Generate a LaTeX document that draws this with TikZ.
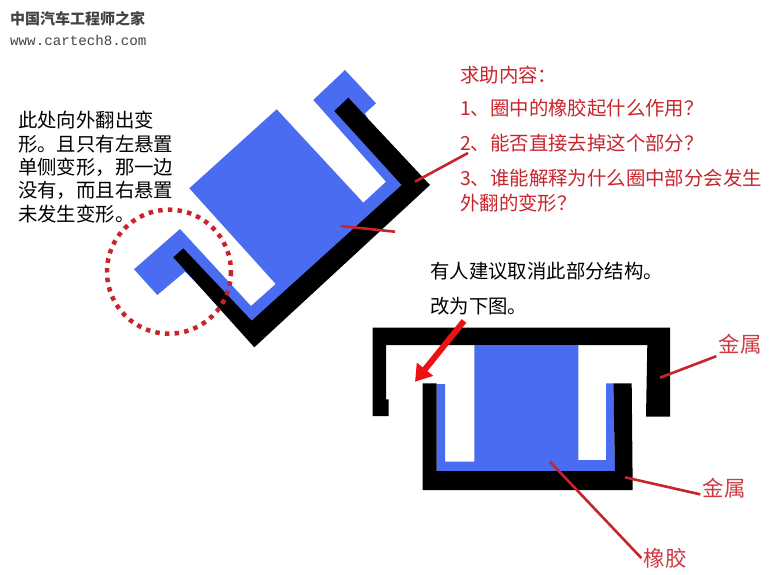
\documentclass[tikz,border=0pt]{standalone}
\usepackage{fontspec}
\setmainfont{Noto Sans CJK SC}
\newfontfamily\urlfont{Liberation Mono}
\usepackage{tikz}
\usetikzlibrary{calc}
\usetikzlibrary{arrows.meta}
\definecolor[named]{RubberBlue}{HTML}{4A6CF0}
\definecolor[named]{NoteRed}{HTML}{C8242C}
\definecolor[named]{LabelRed}{HTML}{CC3A42}
\definecolor[named]{ArrowRed}{HTML}{EE1111}
\definecolor[named]{MarkGray}{HTML}{444444}
\tikzset{
  rubber/.style={fill=RubberBlue},
  metal/.style={fill=black},
  leader/.style={draw=NoteRed,line width=2.6pt},
  note/.style={anchor=west,inner sep=0pt,font=\fontsize{19.4}{23.4}\selectfont},
  ask/.style={note,text=NoteRed},
  partlabel/.style={inner sep=2pt,text=LabelRed,font=\fontsize{21.5}{24}\selectfont}
}

\begin{document}
\begin{tikzpicture}[x=1pt,y=-1pt]
      \useasboundingbox (0,0) rectangle (779,574);
      \node[anchor=west,inner sep=0pt,text=MarkGray,font=\fontsize{15}{16}\selectfont\bfseries] (mark) at (10,19) {中国汽车工程师之家};
      \node[anchor=west,inner sep=0pt,text=MarkGray,font=\fontsize{14.2}{16}\selectfont\urlfont] (site) at (10,40) {www.cartech8.com};
      % tilted part
      \fill[rubber] (276.7,109.3) -- (363.3,202.7) -- (386,181.7) -- (313.3,100) -- (345,70) -- (376,103.3)
        -- (365,113.3) -- (401.7,185) -- (285,293.3) -- (251.7,320.7) -- (200,286.7) -- (185,271.7)
        -- (157.3,295) -- (134,269.3) -- (180,229) -- (191.7,241.7) -- (251,306) -- (275.7,284) -- (189.3,188.3) -- cycle;
      \fill[metal] (348.3,97.7) -- (430,185) -- (254.3,347.3) -- (173.3,257.3) -- (183.3,248.3)
        -- (251.7,320.7) -- (401.7,185) -- (334.3,111) -- cycle;
      \draw[NoteRed,line width=4.5pt,dash pattern=on 4.5pt off 5.2pt] (169,271.7) circle (62);
      % flat part
      \fill[metal] (372.7,327.7) -- (670,327.7) -- (670,416.7) -- (646,416.7) -- (647.3,345) -- (386,345)
        -- (386,399.3) -- (388.7,399.3) -- (388.7,416) -- (372.7,416) -- cycle;
      \fill[rubber] (474.3,345) -- (578.3,345) -- (578.3,460) -- (606,460) -- (606,383.3) -- (613.3,383.3)
        -- (615,471) -- (578.3,471) -- (578.3,472.3) -- (474.3,472.3) -- (474.3,471) -- (436.7,471)
        -- (436.7,384) -- (445,384) -- (445,461.7) -- (474.3,461.7) -- cycle;
      \fill[metal] (422.7,383.3) -- (436.7,383.3) -- (436.7,471) -- (615,471) -- (613.3,383.3) -- (631.7,383.3)
        -- (632.7,490) -- (422.7,490) -- cycle;
      % texts
      \node[note,align=left,anchor=north west] (leftnote) at (18,111) {此处向外翻出变\\形。且只有左悬置\\单侧变形，那一边\\没有，而且右悬置\\未发生变形。};
      \node[ask] (askhead) at (460,75) {求助内容：};
      \node[ask] (askone) at (460,108) {1、圈中的橡胶起什么作用？};
      \node[ask] (asktwo) at (460,143) {2、能否直接去掉这个部分？};
      \node[ask] (askthree) at (460,178) {3、谁能解释为什么圈中部分会发生};
      \node[ask] (askfour) at (460,203) {外翻的变形？};
      \node[note] (advice) at (430,271) {有人建议取消此部分结构。};
      \node[note] (change) at (430,306) {改为下图。};
      \node[partlabel] (metalup) at (740,344) {金属};
      \node[partlabel] (metaldown) at (724,488) {金属};
      \node[partlabel] (rubberlabel) at (665,558) {橡胶};
      % leaders
      \coordinate (tiltA) at (415,181.7);
      \coordinate (tiltB) at (468,153);
      \coordinate (midA) at (340.7,226);
      \coordinate (midB) at (395,231.7);
      \coordinate (metalupend) at (660,377.7);
      \coordinate (metaldownend) at (625,477.3);
      \coordinate (rubberend) at (550,461.7);
      \coordinate (arrowtail) at (464,321);
      \coordinate (arrowhead) at (415,381.7);
      \draw[leader] (tiltA) -- (tiltB);
      \draw[leader] (midA) -- (midB);
      \draw[leader] (metalup.south west) -- (metalupend);
      \draw[leader] (metaldown.195) -- (metaldownend);
      \draw[leader] (rubberlabel.west) -- (rubberend);
      \draw[ArrowRed,line width=6pt,-{Triangle[length=16pt,width=20pt]}] (arrowtail) -- (arrowhead);
    \end{tikzpicture}
\end{document}
